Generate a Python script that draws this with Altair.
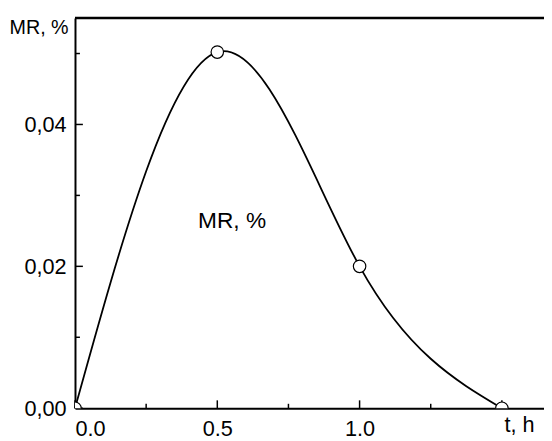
import altair as alt
import pandas as pd

# data
t_vals = [0.0, 0.5, 1.0, 1.5]
mr_vals = [0.0, 0.0502, 0.0200, 0.0]

x_labels = [0.0, 0.5, 1.0]
x_major = [0.0, 0.5, 1.0, 1.5]
x_minor = [0.25, 0.75, 1.25]
y_major = [0.00, 0.02, 0.04]
y_minor = [0.01, 0.03, 0.05]

note_text = ["MR, %"]
note_t = [0.552]
note_mr = [0.0254]

W, H = 476, 396
FONT = "Liberation Sans"

df = pd.DataFrame({"t": t_vals, "mr": mr_vals})
xs = alt.Scale(domain=[0, 1.648], nice=False, zero=False)
ys = alt.Scale(domain=[0, 0.055], nice=False, zero=False)

x_axis = alt.Axis(values=x_labels, format=".1f", ticks=False, grid=False,
                  domainColor="black", domainWidth=2, labelFontSize=22,
                  labelFont=FONT, labelColor="black", labelPadding=11,
                  labelBaseline="top",
                  title="t, h", titleFont=FONT, titleFontSize=22,
                  titleFontWeight="normal", titleColor="black",
                  titleAnchor="start", titleAlign="right", titleX=466,
                  titleY=24, titleBaseline="alphabetic")
y_axis = alt.Axis(values=y_major, format=".2f",
                  labelExpr="replace(datum.label, '.', ',')",
                  ticks=False, grid=False, domainColor="black", domainWidth=2,
                  labelFontSize=22, labelFont=FONT, labelColor="black",
                  labelPadding=9, labelBaseline="middle",
                  title="MR, %", titleFont=FONT, titleFontSize=20,
                  titleFontWeight="normal", titleColor="black", titleAngle=0,
                  titleAnchor="start", titleAlign="right", titleX=-7,
                  titleY=16, titleBaseline="alphabetic")

base = alt.Chart(df)
line = base.mark_line(interpolate="natural", color="black", strokeWidth=1.8).encode(
    x=alt.X("t:Q", scale=xs, axis=x_axis),
    y=alt.Y("mr:Q", scale=ys, axis=y_axis),
)
pts = base.mark_point(filled=True, fill="white", stroke="black", strokeWidth=1.2,
                      size=160, opacity=1, clip=True).encode(
    x=alt.X("t:Q", scale=xs), y=alt.Y("mr:Q", scale=ys))

note = alt.Chart(pd.DataFrame({"t": note_t, "mr": note_mr, "txt": note_text})).mark_text(
    font=FONT, fontSize=23, color="black", align="center", baseline="alphabetic"
).encode(x=alt.X("t:Q", scale=xs), y=alt.Y("mr:Q", scale=ys), text="txt:N")

xmaj = alt.Chart(pd.DataFrame({"t": x_major})).mark_rule(color="black", strokeWidth=1.5).encode(
    x=alt.X("t:Q", scale=xs), y=alt.value(H), y2=alt.value(H - 8))
xmin = alt.Chart(pd.DataFrame({"t": x_minor})).mark_rule(color="black", strokeWidth=1.5).encode(
    x=alt.X("t:Q", scale=xs), y=alt.value(H), y2=alt.value(H - 4.5))
ymaj = alt.Chart(pd.DataFrame({"mr": y_major})).mark_rule(color="black", strokeWidth=1.5).encode(
    y=alt.Y("mr:Q", scale=ys), x=alt.value(0), x2=alt.value(8))
ymin = alt.Chart(pd.DataFrame({"mr": y_minor})).mark_rule(color="black", strokeWidth=1.5).encode(
    y=alt.Y("mr:Q", scale=ys), x=alt.value(0), x2=alt.value(5))
top = alt.Chart(pd.DataFrame({"a": [0]})).mark_rule(color="black", strokeWidth=2.5).encode(
    y=alt.value(0), x=alt.value(0), x2=alt.value(W))

chart = alt.layer(line, xmaj, xmin, ymaj, ymin, top, pts, note).properties(
    width=W, height=H,
    padding={"left": 68, "top": 7, "right": 0, "bottom": 26},
    autosize=alt.AutoSizeParams(type="none"),
).configure_view(stroke=None).configure(background="white")

chart.save("out.html", embed_options={"renderer": "svg", "actions": False})
